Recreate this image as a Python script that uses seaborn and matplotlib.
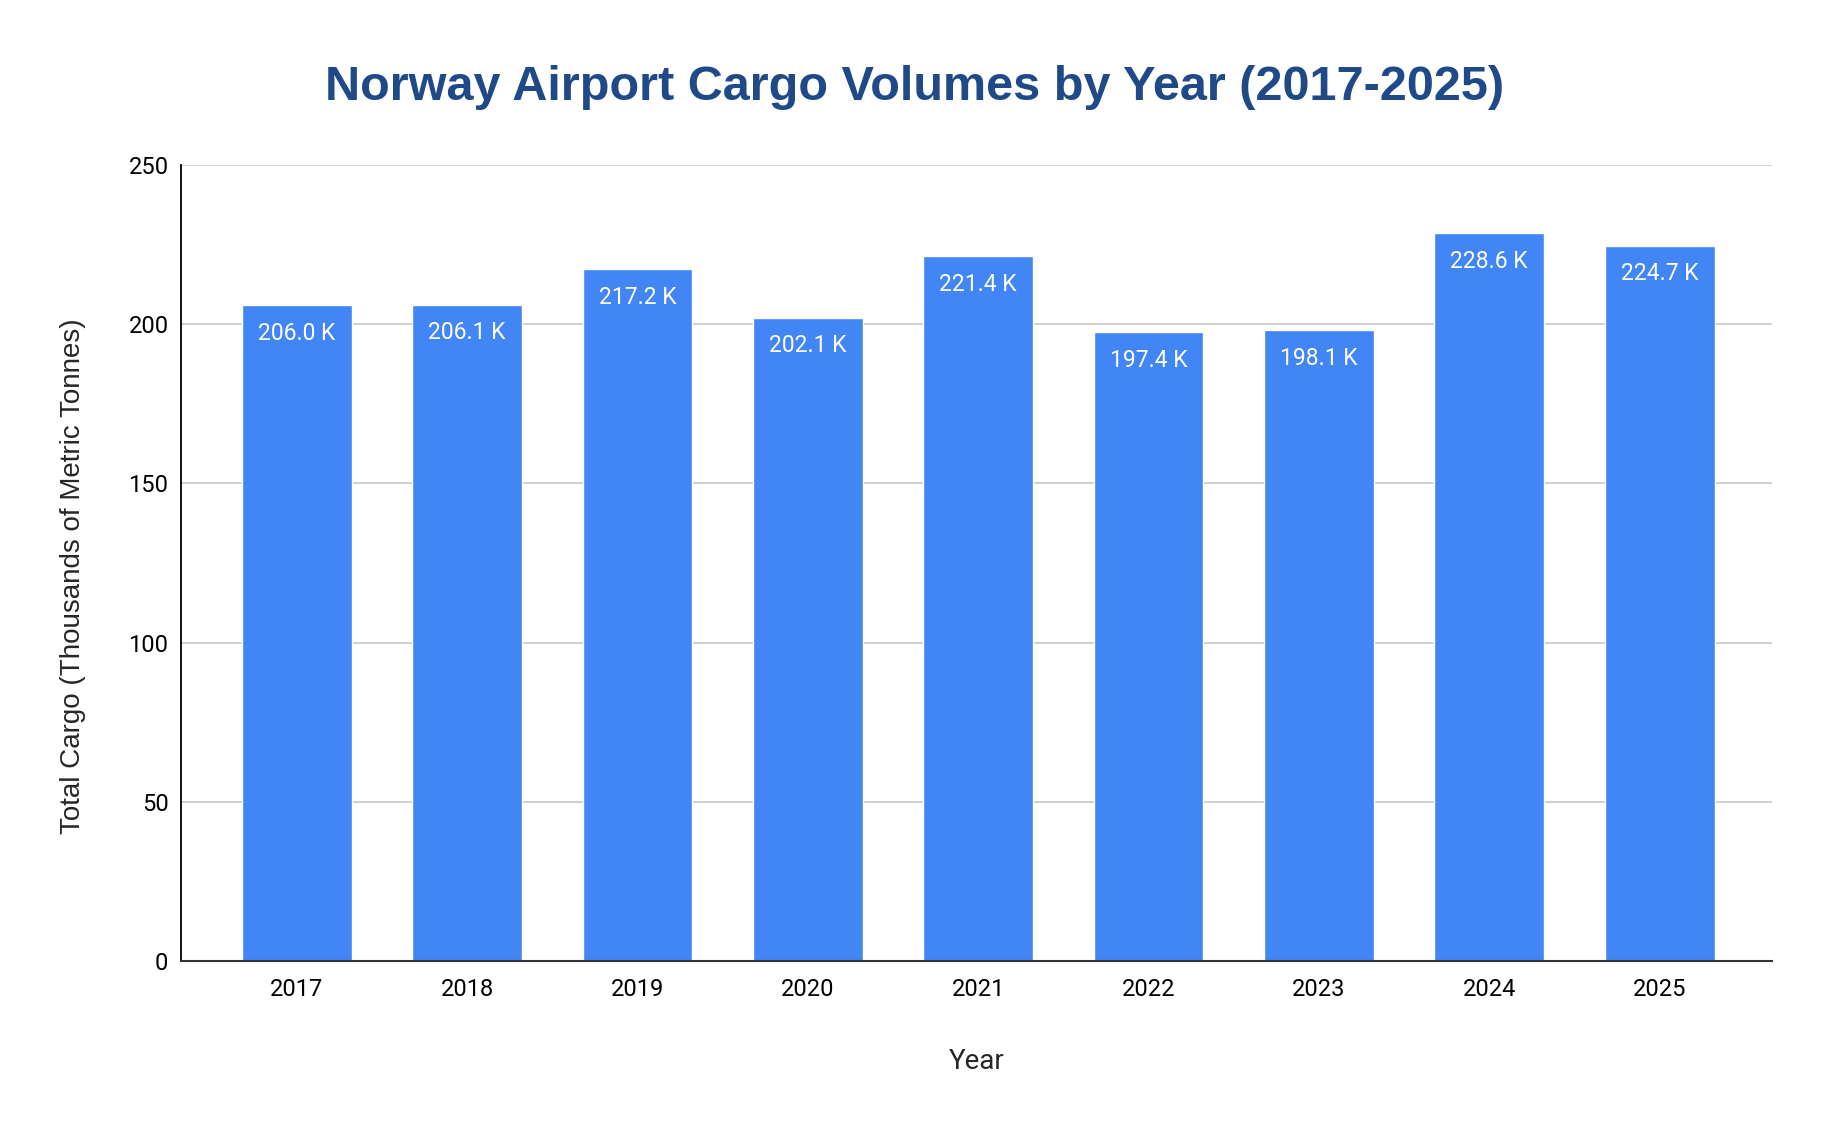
import pandas as pd
import seaborn as sns
import matplotlib.pyplot as plt

years = ['2017', '2018', '2019', '2020', '2021', '2022', '2023', '2024', '2025']
cargo = [206.0, 206.1, 217.2, 202.1, 221.4, 197.4, 198.1, 228.6, 224.7]
labels = ['206.0 K', '206.1 K', '217.2 K', '202.1 K', '221.4 K', '197.4 K', '198.1 K', '228.6 K', '224.7 K']

df = pd.DataFrame({'Year': years, 'Cargo': cargo})

sns.set_style('white')
plt.rcParams['font.family'] = ['Roboto', 'DejaVu Sans']

fig = plt.figure(figsize=(18.3, 11.32), dpi=100)
ax = fig.add_axes([181 / 1830, 1 - 961 / 1132, (1772 - 181) / 1830, (961 - 165) / 1132])

sns.barplot(data=df, x='Year', y='Cargo', color='#4285F4', width=0.645,
            saturation=1, ax=ax, zorder=3)

for i, (v, lab) in enumerate(zip(cargo, labels)):
    ax.annotate(lab, (i, v), xytext=(0, -12), textcoords='offset points',
                ha='center', va='top', color='white', fontsize=16.5, zorder=4)

ax.set_ylim(0, 250)
ax.set_xlim(-0.68, 8.66)
ax.set_yticks([0, 50, 100, 150, 200, 250])
ax.yaxis.grid(True, color='#cccccc', linewidth=1.3, zorder=0)
ax.tick_params(axis='both', length=0, labelsize=17, colors='black')
ax.tick_params(axis='x', pad=12)
ax.tick_params(axis='y', pad=9)

for s in ['top', 'right']:
    ax.spines[s].set_visible(False)
ax.spines['left'].set_color('black')
ax.spines['left'].set_linewidth(1.3)
ax.spines['bottom'].set_color('#333333')
ax.spines['bottom'].set_linewidth(1.5)
ax.spines['bottom'].set_zorder(5)

ax.set_xlabel('Year', fontsize=20, labelpad=34)
ax.set_ylabel('Total Cargo (Thousands of Metric Tonnes)', fontsize=20,
              family=['Liberation Sans'])
ax.yaxis.set_label_coords(-0.06, 0.484)

fig.text(915 / 1830, 1 - 88 / 1132, 'Norway Airport Cargo Volumes by Year (2017-2025)',
         ha='center', va='center', fontsize=35, fontweight='bold',
         color='#1f4a87', family=['Liberation Sans'])

plt.savefig('out.png', dpi=100)
